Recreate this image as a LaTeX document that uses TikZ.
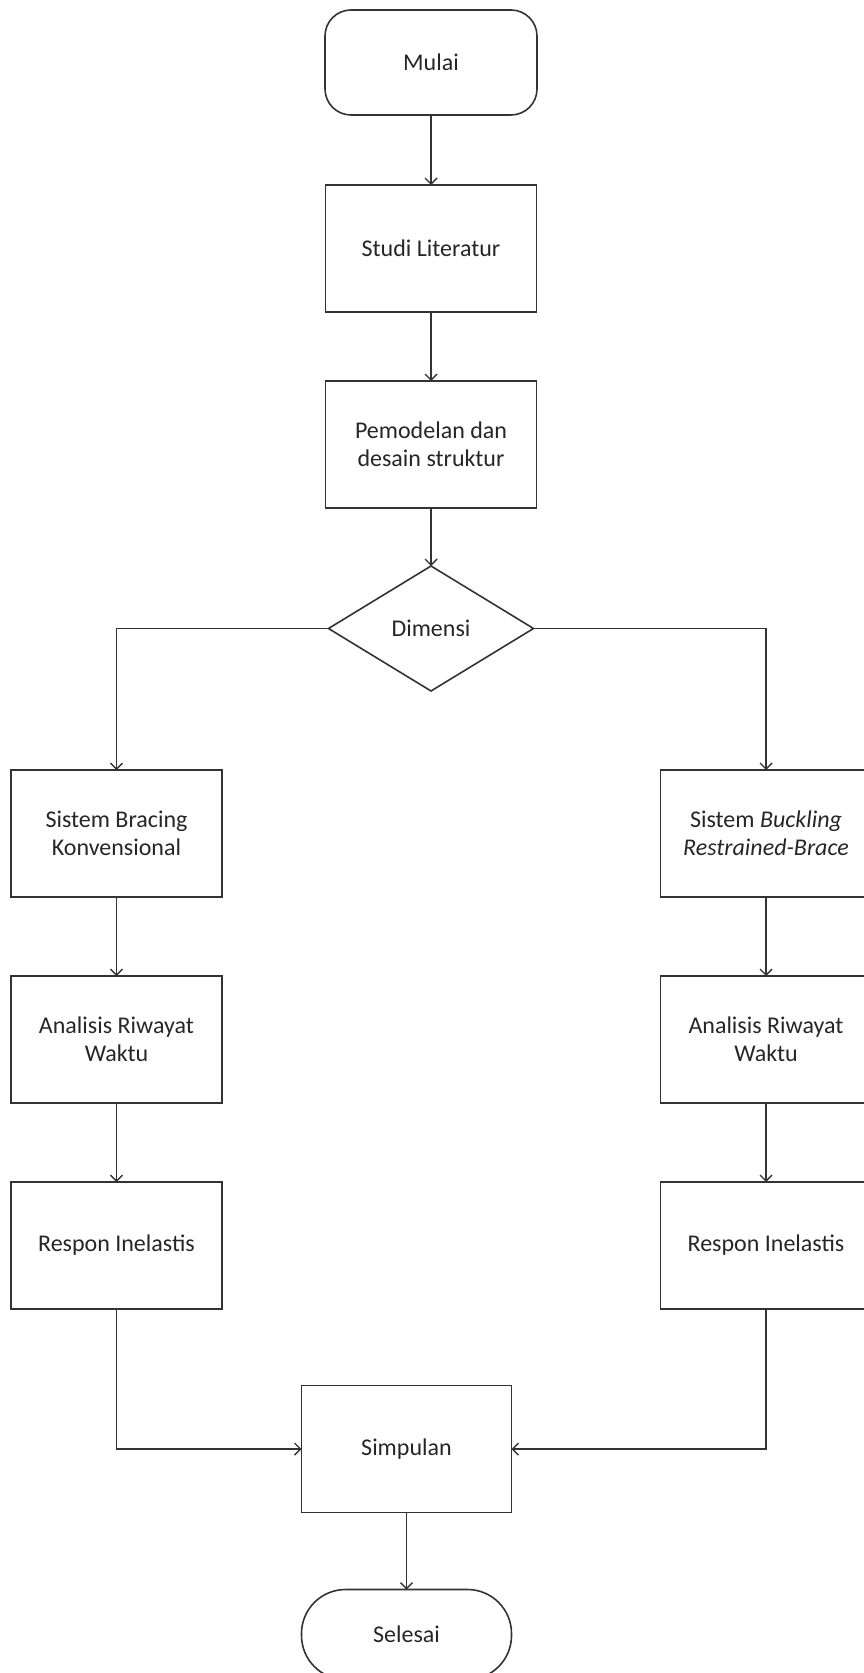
\documentclass[tikz,border=0pt]{standalone}
\usepackage{fontspec}
\setmainfont{Carlito}
\usetikzlibrary{positioning,shapes.geometric,arrows.meta}
\tikzset{
  proses/.style={rectangle,draw,line width=0.8pt,outer sep=0pt,minimum width=105.5pt,minimum height=63.5pt,align=center,inner sep=2pt},
  terminal/.style={rectangle,draw,line width=0.8pt,outer sep=0pt,minimum width=106pt,minimum height=52.5pt,rounded corners=13pt,align=center},
  keputusan/.style={diamond,draw,line width=0.8pt,outer sep=0pt,minimum width=102.5pt,minimum height=62.5pt,inner sep=0pt,align=center},
  panah/.style={line width=0.7pt,-{Straight Barb[length=3pt,width=6pt]}}
}
\begin{document}
\begin{tikzpicture}[x=0.5pt,y=-0.5pt,font=\fontsize{12}{14}\selectfont,text=black!85,draw=black!80,node distance=35pt]
\useasboundingbox (0,0) rectangle (863,1673);
\node [terminal] (mulai) at (431,62.5) {Mulai};
\node [proses,below=35pt of mulai] (studi) {Studi Literatur};
\node [proses,below=34.5pt of studi] (model) {Pemodelan dan\\desain struktur};
\node [keputusan,below=29pt of model] (dimensi) {Dimensi};
% cabang kiri
\node [proses] (sbk) at (116.5,833.5) {Sistem Bracing\\Konvensional};
\node [proses,below=39.5pt of sbk] (arwk) {Analisis Riwayat\\Waktu};
\node [proses,below=39.5pt of arwk] (rik) {Respon Inelastis};
% cabang kanan
\node [proses] (sbrb) at (766,833.5) {Sistem \textit{Buckling}\\\textit{Restrained-Brace}};
\node [proses,below=39.5pt of sbrb] (arwb) {Analisis Riwayat\\Waktu};
\node [proses,below=39.5pt of arwb] (rib) {Respon Inelastis};
\node [proses,minimum width=105pt] (simpulan) at (406.5,1449) {Simpulan};
\node [terminal,below=38.5pt of simpulan,minimum width=105pt,minimum height=45pt,rounded corners=22pt] (selesai) {Selesai};

\draw [panah] (mulai) -- (studi);
\draw [panah] (studi) -- (model);
\draw [panah] (model) -- (dimensi);
\draw [panah] (dimensi.west) -| (sbk.north);
\draw [panah] (dimensi.east) -| (sbrb.north);
\draw [panah] (sbk) -- (arwk);
\draw [panah] (arwk) -- (rik);
\draw [panah] (sbrb) -- (arwb);
\draw [panah] (arwb) -- (rib);
\draw [panah] (rik.south) |- (simpulan.west);
\draw [panah] (rib.south) |- (simpulan.east);
\draw [panah] (simpulan) -- (selesai);
\end{tikzpicture}
\end{document}
